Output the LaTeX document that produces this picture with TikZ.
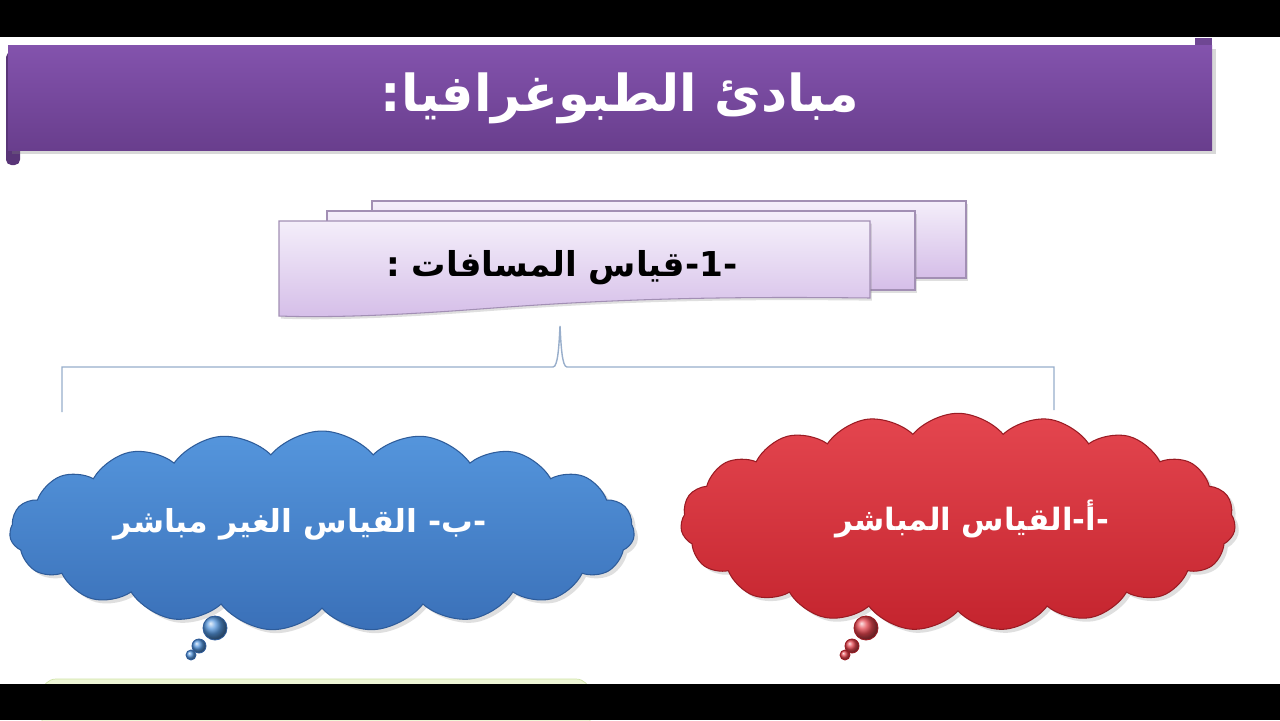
\documentclass[tikz,border=0pt]{standalone}
\usepackage{fontspec}
\newfontfamily\arabicfont[Script=Arabic]{DejaVu Sans}
\TeXXeTstate=1
\usetikzlibrary{positioning,shapes.symbols,shadows}

\definecolor{bannerTop}{HTML}{8353AD}
\definecolor{bannerBot}{HTML}{693E8D}
\definecolor{boxTop}{HTML}{F4EEFA}
\definecolor{boxBot}{HTML}{D5BEE8}
\definecolor{boxLine}{HTML}{A28FB4}
\definecolor{bracketLine}{HTML}{98AECB}
\definecolor{blueTop}{HTML}{5596DD}
\definecolor{blueBot}{HTML}{3A70B8}
\definecolor{blueLine}{HTML}{2E5C9A}
\definecolor{redTop}{HTML}{E4464F}
\definecolor{redBot}{HTML}{C4242E}
\definecolor{redLine}{HTML}{9A1B23}
\definecolor{greenFill}{HTML}{EEF6D6}
\definecolor{greenLine}{HTML}{CFE3A8}

\begin{document}
\begin{tikzpicture}[x=0.02cm,y=-0.02cm,
	every node/.style={font=\arabicfont\bfseries,inner sep=0pt},
	cloudbox/.style={cloud,cloud puffs=19,cloud puff arc=100,aspect=3,line width=0.6pt},
	puff/.style={circle,line width=0.5pt},
	paper/.style={top color=boxTop,bottom color=boxBot,draw=boxLine,line width=0.6pt,
		drop shadow={shadow xshift=1pt,shadow yshift=-1.5pt,opacity=0.25}}]
	\useasboundingbox (0,0) rectangle (1280,720);
	\fill[white] (0,0) rectangle (1280,720);

	% banner
	\fill[bannerBot!85!black,rounded corners=3pt] (6,52) rectangle (20,165);
	\fill[bannerTop!85!black] (1195,38) rectangle (1212,60);
	\shade[top color=bannerTop,bottom color=bannerBot,drop shadow={shadow yshift=-2pt,opacity=0.3}]
		(8,45) rectangle (1212,150);
	\node[text=white,font=\arabicfont\bfseries\fontsize{29}{34}\selectfont] (title) at (620,98)
		{\beginR مبادئ الطبوغرافيا:\endR};

	% stacked boxes
	\path[paper] (372,201) rectangle (966,278);
	\path[paper] (327,211) rectangle (915,290);
	\path[paper] (279,221) -- (870,221) -- (870,298)
		.. controls (700,296) and (600,300) .. (480,309)
		.. controls (400,315) and (330,318) .. (279,316) -- cycle;
	\node[font=\arabicfont\bfseries\fontsize{19.5}{24}\selectfont] (dist) at (562,268)
		{\beginR -1-قياس المسافات :\endR};

	% bracket
	\coordinate (tip) at (560,326);
	\coordinate (endL) at (62,412);
	\coordinate (endR) at (1054,410);
	\draw[bracketLine,line width=0.8pt] (endL) |- (553,367)
		.. controls (558,367) and (559,345) .. (tip)
		.. controls (561,345) and (562,367) .. (567,367) -| (endR);

	% clouds
	\node[cloudbox,minimum width=12.5cm,minimum height=4cm,top color=blueTop,bottom color=blueBot,
		draw=blueLine,drop shadow={shadow yshift=-2pt,opacity=0.25}] (indirect) at (322,531) {};
	\node[text=white,font=\arabicfont\bfseries\fontsize{18}{22}\selectfont] (indirectText) at (300,524)
		{\beginR -ب- القياس الغير مباشر\endR};
	\node[cloudbox,minimum width=11.1cm,minimum height=4.35cm,top color=redTop,bottom color=redBot,
		draw=redLine,drop shadow={shadow yshift=-2pt,opacity=0.25}] (direct) at (958,522) {};
	\node[text=white,font=\arabicfont\bfseries\fontsize{17.5}{21}\selectfont] (directText) at (972,519)
		{\beginR -أ-القياس المباشر\endR};

	% thought puffs
	\node[puff,minimum size=0.48cm,ball color=blueTop,draw=blueLine] (bp1) at (215,628) {};
	\node[puff,minimum size=0.28cm,ball color=blueTop,draw=blueLine] (bp2) at (199,646) {};
	\node[puff,minimum size=0.2cm,ball color=blueTop,draw=blueLine] (bp3) at (191,655) {};
	\node[puff,minimum size=0.48cm,ball color=redTop,draw=redLine] (rp1) at (866,628) {};
	\node[puff,minimum size=0.28cm,ball color=redTop,draw=redLine] (rp2) at (852,646) {};
	\node[puff,minimum size=0.2cm,ball color=redTop,draw=redLine] (rp3) at (845,655) {};

	% next box, cut by the frame
	\draw[fill=greenFill,draw=greenLine,rounded corners=8pt] (42,679) rectangle (590,740);

	% frame bars
	\fill[black] (0,0) rectangle (1280,37);
	\fill[black] (0,684) rectangle (1280,720);
\end{tikzpicture}
\end{document}
